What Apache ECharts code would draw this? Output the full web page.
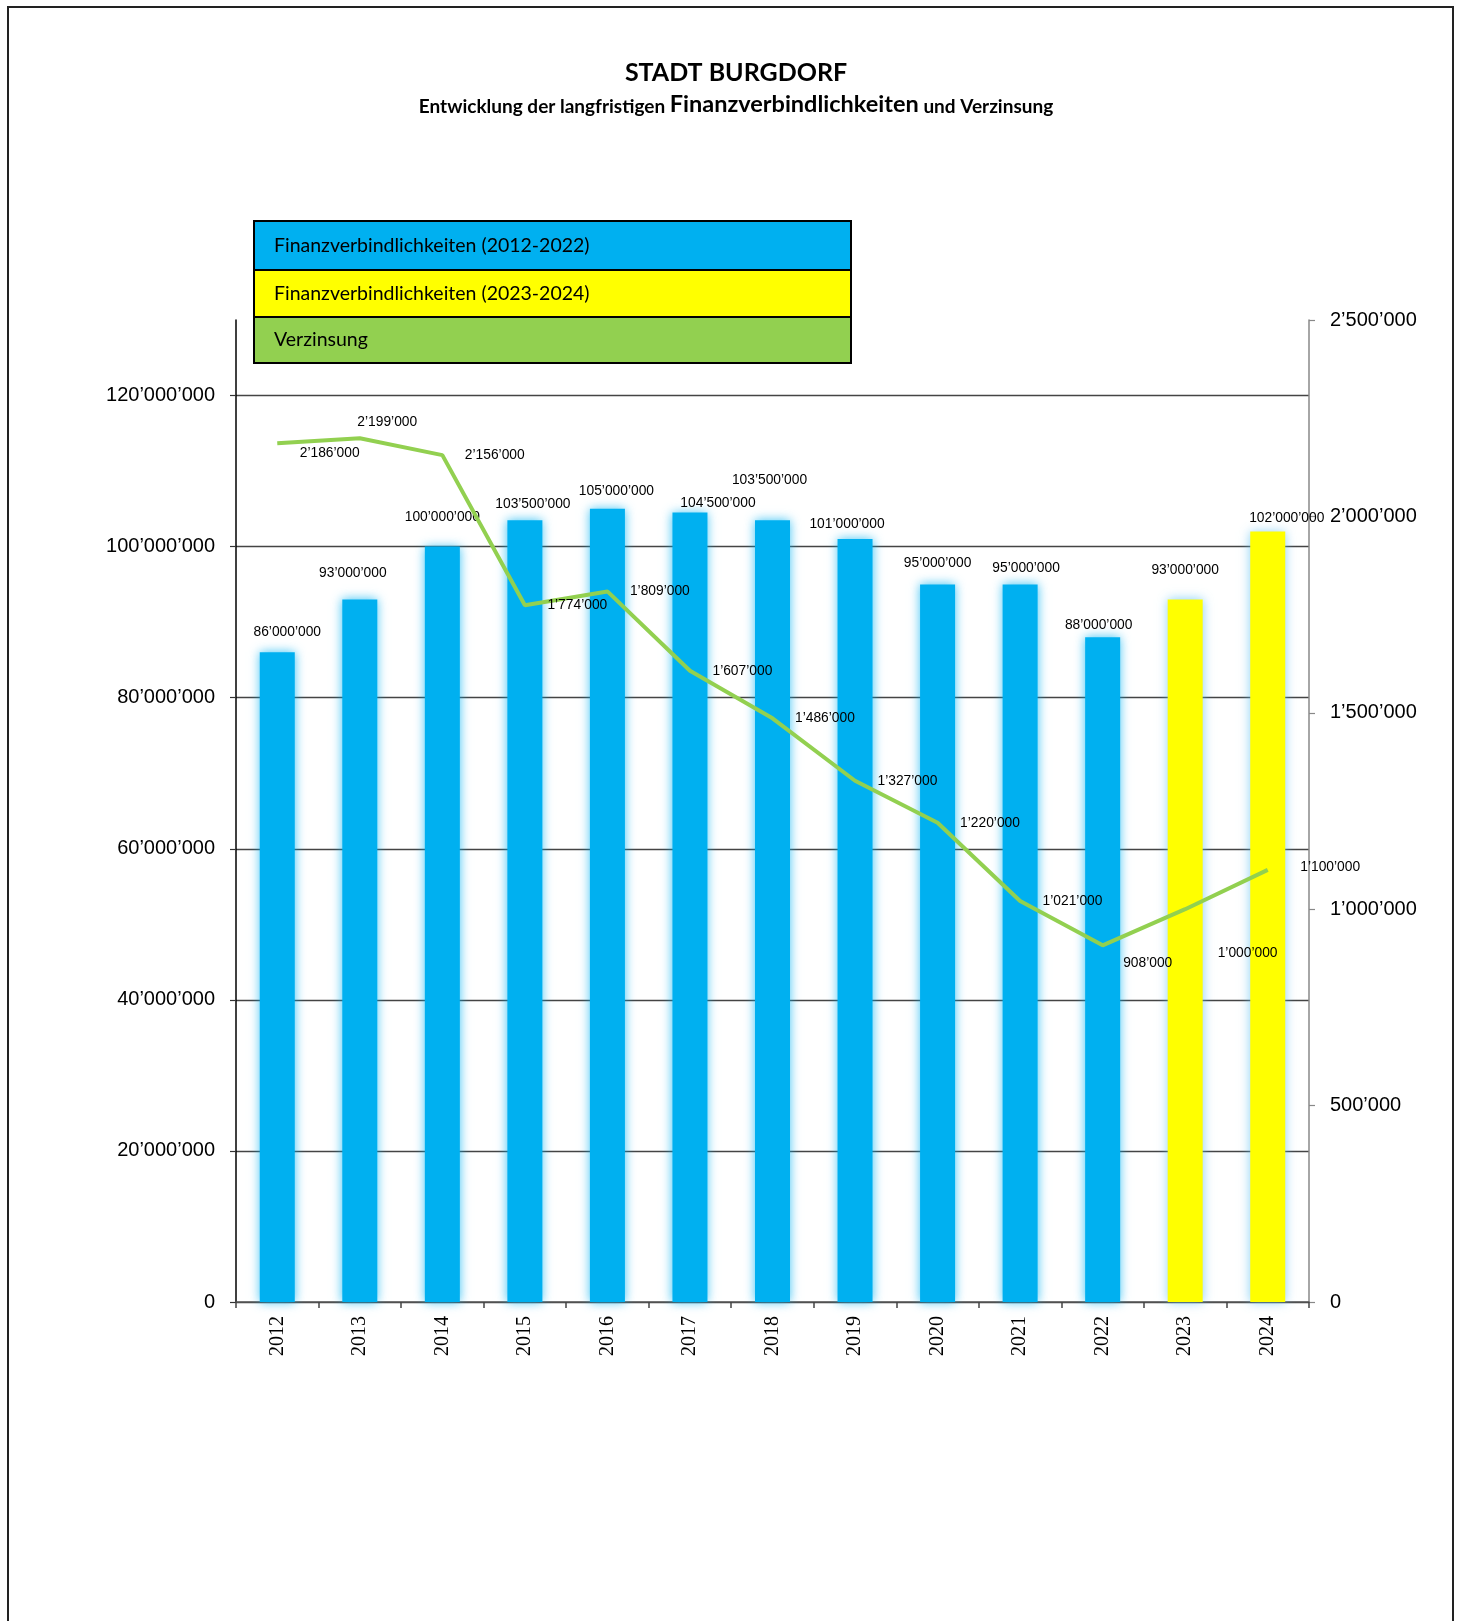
<!DOCTYPE html>
<html><head><meta charset="utf-8">
<script src="https://cdn.jsdelivr.net/npm/echarts@6/dist/echarts.min.js"></script>
<style>html,body{margin:0;padding:0;background:#fff}#c{width:1461px;height:1621px}</style>
</head><body><div id="c"></div>
<script>
// ---- data ----
const years = ['2012','2013','2014','2015','2016','2017','2018','2019','2020','2021','2022','2023','2024'];
const debtActual = [86000000,93000000,100000000,103500000,105000000,104500000,103500000,101000000,95000000,95000000,88000000,null,null];
const debtPlan = [null,null,null,null,null,null,null,null,null,null,null,93000000,102000000];
const interest = [2186000,2199000,2156000,1774000,1809000,1607000,1486000,1327000,1220000,1021000,908000,1000000,1100000];
const leftTicks = [0,20000000,40000000,60000000,80000000,100000000,120000000];
const rightTicks = [0,500000,1000000,1500000,2000000,2500000];
const seriesNames = ['Finanzverbindlichkeiten (2012-2022)','Finanzverbindlichkeiten (2023-2024)','Verzinsung'];
const titleText = 'STADT BURGDORF';
const subtitleParts = ['Entwicklung der langfristigen ','Finanzverbindlichkeiten',' und Verzinsung'];

// ---- label nudges (style only) ----
const barLabelNudge = [[10,-8],[-7,-14],[0,-17],[8,-4],[9,-6],[28,3],[-3,-28],[-8,-3],[0,-9],[6,-4],[-4,0],[0,-17],[19,-1]];
const lineLabelNudge = [[0,10],[-25,-16],[0,0],[0,0],[0,0],[0,0],[0,0],[0,0],[0,0],[0,0],[-2,18],[10,44],[10,-3]];

const fmt = v => Math.round(v).toString().replace(/\B(?=(\d{3})+(?!\d))/g, '\u2019');
const colBlue = '#00B0F0', colYellow = '#FFFF00', colGreen = '#92D050';

const chart = echarts.init(document.getElementById('c'));

function barData(arr){
  return arr.map((v,i)=> v==null ? null : ({value:v, label:{offset:barLabelNudge[i]}}));
}
const barLabel = {show:true, position:'top', distance:5, fontSize:13.8, fontFamily:'Liberation Sans, Arial', color:'#000', formatter:p=>fmt(p.value)};
const legendFont = {fontFamily:'Lato', fontSize:19.5, fill:'#000', verticalAlign:'middle'};

const option = {
  animation:false,
  backgroundColor:'#fff',
  graphic:[
    {type:'rect', shape:{x:8,y:7,width:1445,height:1700}, style:{fill:'none', stroke:'#222', lineWidth:2}, silent:true, z:-1},
    {type:'text', x:736, y:73, style:{text:titleText, fontFamily:'Lato', fontWeight:'bold', fontSize:25, fill:'#000', align:'center', verticalAlign:'middle'}},
    {type:'text', x:736, y:104, style:{
      text:'{a|'+subtitleParts[0]+'}{b|'+subtitleParts[1]+'}{a|'+subtitleParts[2]+'}',
      align:'center', verticalAlign:'middle',
      rich:{
        a:{fontFamily:'Lato', fontWeight:'bold', fontSize:19, fill:'#000', verticalAlign:'bottom'},
        b:{fontFamily:'Lato', fontWeight:'bold', fontSize:23.5, fill:'#000', verticalAlign:'bottom'}
      }}},
    {type:'group', x:254, y:221, children:[
      {type:'rect', shape:{x:0,y:0,width:597,height:49}, style:{fill:colBlue, stroke:'#000', lineWidth:2}},
      {type:'rect', shape:{x:0,y:49,width:597,height:47}, style:{fill:colYellow, stroke:'#000', lineWidth:2}},
      {type:'rect', shape:{x:0,y:96,width:597,height:46}, style:{fill:colGreen, stroke:'#000', lineWidth:2}},
      {type:'text', x:20, y:25, style:Object.assign({text:seriesNames[0]}, legendFont)},
      {type:'text', x:20, y:73, style:Object.assign({text:seriesNames[1]}, legendFont)},
      {type:'text', x:20, y:119, style:Object.assign({text:seriesNames[2]}, legendFont)}
    ]}
  ],
  grid:{left:236, right:152, top:320, bottom:319, containLabel:false},
  xAxis:{
    type:'category', data:years, boundaryGap:true,
    axisLine:{show:true, lineStyle:{color:'#555', width:1.5}},
    axisTick:{show:true, interval:0, alignWithLabel:false, length:6, lineStyle:{color:'#444', width:1.5}},
    axisLabel:{rotate:90, interval:0, margin:14, fontFamily:'Liberation Serif', fontSize:20, color:'#000'},
    splitLine:{show:false}
  },
  yAxis:[
    {type:'value', min:0, max:130000000, interval:20000000, position:'left',
     axisLine:{show:true, lineStyle:{color:'#000', width:1.5}},
     axisTick:{show:true, length:6, customValues:leftTicks, lineStyle:{color:'#333', width:1.2}},
     axisLabel:{customValues:leftTicks, margin:21, fontFamily:'Liberation Sans, Arial', fontSize:20, color:'#000', formatter:v=>fmt(v)},
     splitLine:{show:true, lineStyle:{color:['#444','#444','#444','#444','#444','#444','#444','rgba(0,0,0,0)'], width:1.3}}
    },
    {type:'value', min:0, max:2500000, interval:500000, position:'right',
     axisLine:{show:true, lineStyle:{color:'#888', width:1.5}},
     axisTick:{show:true, length:6, lineStyle:{color:'#888', width:1.2}},
     axisLabel:{customValues:rightTicks, margin:21, fontFamily:'Liberation Sans, Arial', fontSize:20, color:'#000', formatter:v=>fmt(v)},
     splitLine:{show:false}
    }
  ],
  series:[
    {name:seriesNames[0], type:'bar', data:barData(debtActual), barWidth:35, barGap:'-100%', yAxisIndex:0,
     itemStyle:{color:colBlue, shadowBlur:10, shadowColor:'rgba(0,176,240,0.75)'}, label:barLabel, z:2},
    {name:seriesNames[1], type:'bar', data:barData(debtPlan), barWidth:35, barGap:'-100%', yAxisIndex:0,
     itemStyle:{color:colYellow, shadowBlur:10, shadowColor:'rgba(90,190,240,0.7)'}, label:barLabel, z:2},
    {name:seriesNames[2], type:'line', data:interest.map((v,i)=>({value:v, label:{offset:lineLabelNudge[i]}})), yAxisIndex:1,
     symbol:'circle', symbolSize:1, showSymbol:true, itemStyle:{color:'rgba(0,0,0,0)'},
     lineStyle:{color:colGreen, width:4}, z:5,
     label:{show:true, position:'right', distance:22, fontSize:13.8, fontFamily:'Liberation Sans, Arial', color:'#000', formatter:p=>fmt(p.value)}}
  ]
};
chart.setOption(option);
</script></body></html>
